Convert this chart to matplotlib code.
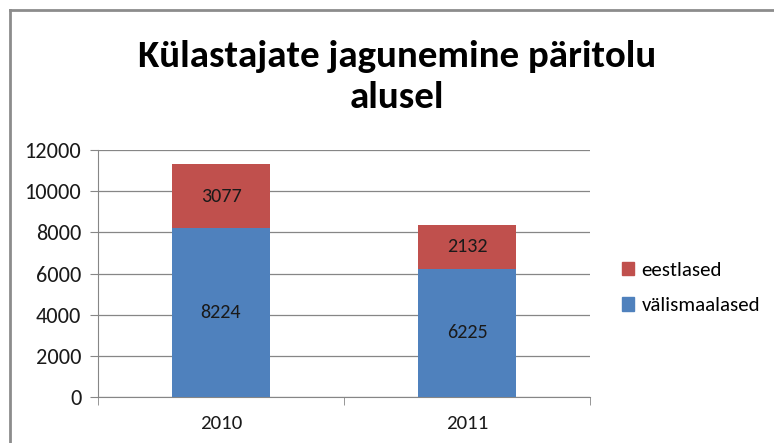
import matplotlib.pyplot as plt
from matplotlib.lines import Line2D
from matplotlib.patches import Patch

years = ["2010", "2011"]
valismaalased = [8224, 6225]
eestlased = [3077, 2132]

plt.rcParams['font.family'] = ['Carlito', 'Liberation Sans', 'DejaVu Sans']

fig = plt.figure(figsize=(7.74, 4.43), dpi=100)
ax = fig.add_axes([0.1266, 0.1038, 0.6357, 0.5576])

x = range(len(years))
b1 = ax.bar(x, valismaalased, width=0.395, color='#4F81BD', label='välismaalased', zorder=3)
b2 = ax.bar(x, eestlased, width=0.395, bottom=valismaalased, color='#C0504D', label='eestlased', zorder=3)
ax.bar_label(b1, label_type='center', fontsize=14.5, color='#1a1a1a')
ax.bar_label(b2, label_type='center', fontsize=14.5, color='#1a1a1a')

ax.set_xlim(-0.5, 1.5)
ax.set_ylim(0, 12000)
ax.set_yticks(range(0, 12001, 2000))
ax.set_xticks([0, 1])
ax.set_xticklabels(years)
ax.set_xticks([-0.5, 0.5, 1.5], minor=True)
ax.tick_params(axis='x', which='major', length=0, pad=13, labelsize=15, labelcolor='#1a1a1a')
ax.tick_params(axis='x', which='minor', length=6, color='#868686', direction='out')
ax.tick_params(axis='y', length=6, color='#868686', labelsize=16, labelcolor='#1a1a1a', pad=6)
ax.grid(axis='y', color='#868686', linewidth=0.9, zorder=0)
for s in ['top', 'right']:
    ax.spines[s].set_visible(False)
ax.spines['left'].set_color('#868686')
ax.spines['bottom'].set_color('#868686')

fig.text(0.513, 0.826, "Külastajate jagunemine päritolu\nalusel", ha='center', va='center',
         fontsize=28, fontweight='bold', linespacing=1.3)

handles = [Patch(color='#C0504D'), Patch(color='#4F81BD')]
fig.legend(handles, ['eestlased', 'välismaalased'], loc='center left',
           bbox_to_anchor=(0.779, 0.35), frameon=False, fontsize=15,
           handlelength=0.6, handleheight=0.6, handletextpad=0.35, labelspacing=0.9)

# outer frame (gray left and top border)
fig.add_artist(Line2D([0.0125, 0.0125], [0, 0.977], color='#8c8c8c', lw=2, transform=fig.transFigure))
fig.add_artist(Line2D([0.0125, 1], [0.977, 0.977], color='#8c8c8c', lw=2, transform=fig.transFigure))

fig.savefig('out.png', dpi=100)
